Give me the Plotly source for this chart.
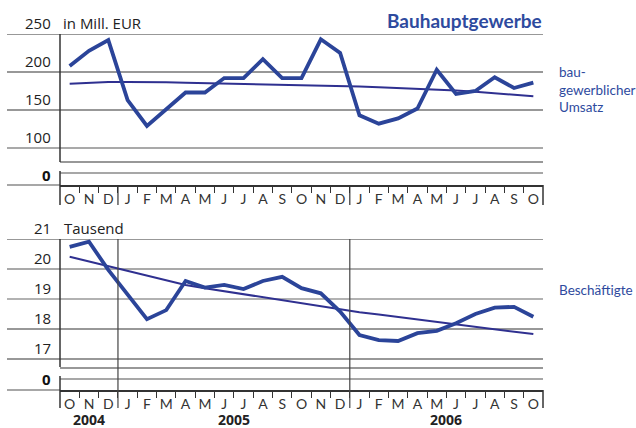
import plotly.graph_objects as go

W, H = 636, 428

months = ["O", "N", "D", "J", "F", "M", "A", "M", "J", "J", "A", "S", "O",
          "N", "D", "J", "F", "M", "A", "M", "J", "J", "A", "S", "O"]
years = ["2004", "2005", "2006"]
year_pos = [1, 8.5, 19.5]

umsatz = [208, 228, 242, 163, 129, 151, 173, 173, 192, 192, 217, 192, 192,
          243, 225, 143, 132, 139, 152, 203, 171, 175, 193, 179, 186]
umsatz_trend = [184.5, 186, 187, 187, 187, 186.5, 186, 185.5, 185, 184.5, 184,
                183.5, 183, 182.5, 182, 181, 180, 179, 178, 177, 175.5, 174,
                172, 170, 168]

beschaeftigte = [20.74, 20.91, 19.97, 19.15, 18.33, 18.63, 19.6, 19.38, 19.47,
                 19.33, 19.6, 19.74, 19.36, 19.19, 18.58, 17.8, 17.63, 17.6,
                 17.86, 17.94, 18.19, 18.5, 18.71, 18.74, 18.41]
beschaeftigte_trend = [20.41, 20.25, 20.1, 19.94, 19.78, 19.63, 19.47, 19.36,
                       19.26, 19.16, 19.06, 18.96, 18.86, 18.77, 18.65, 18.56,
                       18.48, 18.4, 18.32, 18.24, 18.16, 18.08, 18.0, 17.91,
                       17.83]

top_ticks = [250, 200, 150, 100]
bot_ticks = [21, 20, 19, 18, 17]

BLUE = "#2b4499"
TREND = "#2f3090"
TXT_BLUE = "#2e4a9e"
DARK = "#333333"
GRAY = "#8a8a8a"
FONT = "Open Sans, Noto Sans, sans-serif"
NARROW = "Lato, sans-serif"

x_idx = list(range(len(months)))


def px(v):  # pixel x -> paper
    return v / W


def py(v):  # pixel y -> paper
    return 1 - v / H


# pixel geometry of each panel (top of range, bottom axis line)
top_dom = [py(185), py(34)]
bot_dom = [py(390), py(239)]
# top: 50 units = 38 px ; bottom: 1 unit = 30 px
top_rng = [250 - (185 - 34) * 50 / 38, 250]
bot_rng = [21 - (390 - 239) / 30, 21]
top_break = 100 - (162 - 148) * 50 / 38
top_zero = 100 - (173 - 148) * 50 / 38
bot_break = 17 - (368 - 359) / 30
bot_zero = 17 - (379 - 359) / 30

fig = go.Figure()
fig.add_trace(go.Scatter(x=x_idx, y=umsatz_trend, mode="lines",
                         line=dict(color=TREND, width=2), xaxis="x", yaxis="y"))
fig.add_trace(go.Scatter(x=x_idx, y=umsatz, mode="lines",
                         line=dict(color=BLUE, width=3.8), xaxis="x", yaxis="y"))
fig.add_trace(go.Scatter(x=x_idx, y=beschaeftigte_trend, mode="lines",
                         line=dict(color=TREND, width=2), xaxis="x2", yaxis="y2"))
fig.add_trace(go.Scatter(x=x_idx, y=beschaeftigte, mode="lines",
                         line=dict(color=BLUE, width=3.8), xaxis="x2", yaxis="y2"))

xcommon = dict(
    range=[-0.5, len(months) - 0.5],
    domain=[px(60), px(543)],
    tickvals=x_idx,
    ticktext=months,
    ticks="",
    showgrid=False,
    zeroline=False,
    showline=True,
    linecolor=DARK,
    linewidth=1.5,
    tickfont=dict(family=NARROW, size=14, color=DARK),
    minor=dict(tickvals=[i + 0.5 for i in x_idx[:-1]], ticks="outside",
               ticklen=6, tickcolor=DARK, tickwidth=1),
    fixedrange=True,
)
ycommon = dict(showgrid=False, zeroline=False, showticklabels=False,
               showline=False, fixedrange=True)

fig.update_layout(
    width=W, height=H,
    margin=dict(l=0, r=0, t=0, b=0),
    paper_bgcolor="white", plot_bgcolor="white",
    showlegend=False,
    xaxis=dict(xcommon, anchor="y"),
    yaxis=dict(ycommon, domain=top_dom, range=top_rng, anchor="x"),
    xaxis2=dict(xcommon, anchor="y2"),
    yaxis2=dict(ycommon, domain=bot_dom, range=bot_rng, anchor="x2"),
)

shapes = []


def hline(yref, y, x0, color, width=1.2):
    shapes.append(dict(type="line", xref="paper", yref=yref, x0=px(x0), x1=px(543),
                       y0=y, y1=y, line=dict(color=color, width=width), layer="below"))


def vline_px(x, y0, y1, color=DARK, width=1.2):
    shapes.append(dict(type="line", xref="paper", yref="paper", x0=px(x), x1=px(x),
                       y0=py(y0), y1=py(y1), line=dict(color=color, width=width)))


# top panel grid
for v, c in zip(top_ticks, [DARK, DARK, DARK, "#555555"]):
    hline("y", v, 7, c)
hline("y", top_break, 60, DARK)
hline("y", top_zero, 60, GRAY, 1.5)
shapes.append(dict(type="line", xref="paper", yref="paper", x0=px(7), x1=px(60),
                   y0=py(185), y1=py(185), line=dict(color=GRAY, width=1.5)))
vline_px(60, 34, 162, DARK, 1.5)
vline_px(60, 171, 205, DARK, 1.5)
vline_px(543, 185, 205, DARK, 1.5)
for b in [2.5, 14.5]:
    shapes.append(dict(type="line", xref="x", yref="paper", x0=b, x1=b,
                       y0=py(185), y1=py(205), line=dict(color=DARK, width=1.2)))

# bottom panel grid
for v, c in zip(bot_ticks, [DARK, "#555555", "#666666", DARK, DARK]):
    hline("y2", v, 7, c)
hline("y2", bot_break, 60, DARK)
hline("y2", bot_zero, 60, GRAY, 1.5)
shapes.append(dict(type="line", xref="paper", yref="paper", x0=px(7), x1=px(60),
                   y0=py(390), y1=py(390), line=dict(color=GRAY, width=1.5)))
vline_px(60, 239, 367, DARK, 1.5)
vline_px(60, 376, 408, DARK, 1.5)
vline_px(543, 390, 408, DARK, 1.5)
for b in [2.5, 14.5]:
    shapes.append(dict(type="line", xref="x2", yref="paper", x0=b, x1=b,
                       y0=py(239), y1=py(408), line=dict(color="#444444", width=1.2)))

fig.update_layout(shapes=shapes)

ann = []
for v in top_ticks:
    ann.append(dict(xref="paper", yref="y", x=px(53), y=v, yshift=11, text=str(v),
                    xanchor="right", yanchor="middle", showarrow=False,
                    font=dict(family=FONT, size=15, color="#222")))
for v in bot_ticks:
    ann.append(dict(xref="paper", yref="y2", x=px(53), y=v, yshift=11, text=str(v),
                    xanchor="right", yanchor="middle", showarrow=False,
                    font=dict(family=FONT, size=15, color="#222")))
ann.append(dict(xref="paper", yref="y", x=px(53), y=top_zero, yshift=-2, text="<b>0</b>",
                xanchor="right", yanchor="middle", showarrow=False,
                font=dict(family=FONT, size=15, color="#111")))
ann.append(dict(xref="paper", yref="y2", x=px(53), y=bot_zero, yshift=0, text="<b>0</b>",
                xanchor="right", yanchor="middle", showarrow=False,
                font=dict(family=FONT, size=15, color="#111")))
ann.append(dict(xref="paper", yref="y", x=px(61), y=250, yshift=11, text="in Mill. EUR",
                xanchor="left", yanchor="middle", showarrow=False,
                font=dict(family=FONT, size=15, color="#222")))
ann.append(dict(xref="paper", yref="y2", x=px(62), y=21, yshift=11, text="Tausend",
                xanchor="left", yanchor="middle", showarrow=False,
                font=dict(family=FONT, size=15, color="#222")))
ann.append(dict(xref="paper", yref="paper", x=px(544), y=py(20), text="<b>Bauhauptgewerbe</b>",
                xanchor="right", yanchor="middle", showarrow=False,
                font=dict(family=NARROW, size=19, color=TXT_BLUE)))
ann.append(dict(xref="paper", yref="paper", x=px(557), y=py(90),
                text="bau-<br>gewerblicher<br>Umsatz", align="left",
                xanchor="left", yanchor="middle", showarrow=False,
                font=dict(family=NARROW, size=13.5, color=TXT_BLUE)))
ann.append(dict(xref="paper", yref="paper", x=px(557), y=py(290), text="Beschäftigte",
                xanchor="left", yanchor="middle", showarrow=False,
                font=dict(family=NARROW, size=13.5, color=TXT_BLUE)))
for yr, pos in zip(years, year_pos):
    ann.append(dict(xref="x2", yref="paper", x=pos, y=py(419), text="<b>%s</b>" % yr,
                    xanchor="center", yanchor="middle", showarrow=False,
                    font=dict(family=FONT, size=14, color="#222")))
fig.update_layout(annotations=ann)

fig.write_html("out.html", config={"displayModeBar": False},
               post_script="document.body.style.margin = '0';")
